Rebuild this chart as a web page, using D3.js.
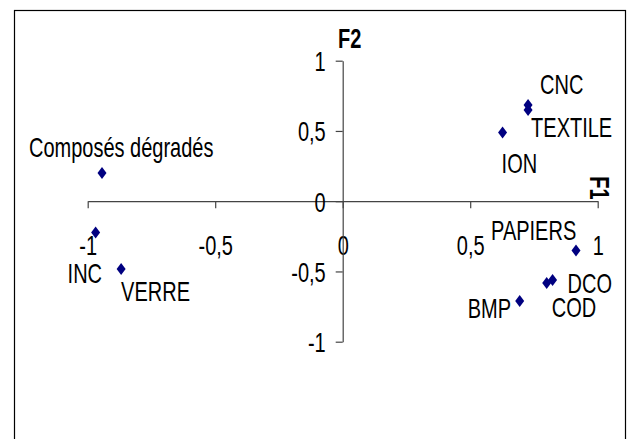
<!DOCTYPE html>
<html>
<head>
<meta charset="utf-8">
<script src="https://cdn.jsdelivr.net/npm/d3@7"></script>
<style>
  html, body { margin: 0; padding: 0; background: #fff; }
  svg { display: block; }
  text { font-family: "Liberation Sans", Arial, sans-serif; fill: #000; }
</style>
</head>
<body>
<div id="chart"></div>
<script>
// variables (PCA correlation circle, F1 x F2)
const names = ["Composés dégradés", "INC", "VERRE", "CNC", "TEXTILE", "ION", "PAPIERS", "DCO", "COD", "BMP"];
const f1 = [-0.944, -0.969, -0.869, 0.727, 0.727, 0.627, 0.915, 0.823, 0.80, 0.694];
const f2 = [0.20, -0.223, -0.483, 0.685, 0.649, 0.489, -0.351, -0.561, -0.582, -0.71];
const tickValues = [-1, -0.5, 0, 0.5, 1];

// label offsets from each point, in px (left edge, baseline)
const labelOffsets = {
    "Composés dégradés": [-73, -16],
    "INC": [-28, 50],
    "VERRE": [0, 32],
    "CNC": [12, -11],
    "TEXTILE": [3, 27],
    "ION": [-1, 41],
    "PAPIERS": [-85, -11],
    "DCO": [15, 13],
    "COD": [5, 34],
    "BMP": [-52, 17]
};

const width = 627, height = 439;
const fontSize = 25;
const stretch = "scale(0.8,1.13)";
const axisColor = "#444";

const svg = d3.select("#chart")
    .append("svg")
    .attr("width", width)
    .attr("height", height);

// chart frame, bottom edge runs off the picture
svg.append("rect")
    .attr("x", 14.5)
    .attr("y", 10.5)
    .attr("width", 611)
    .attr("height", 450)
    .attr("fill", "none")
    .attr("stroke", "#000")
    .attr("stroke-width", 1.2);

const x = d3.scaleLinear().domain([-1, 1]).range([87.7, 597.7]);
const y = d3.scaleLinear().domain([-1, 1]).range([341.7, 60.7]);

const fmt = d => String(d).replace(".", ",");

// horizontal axis through y = 0
const xAxis = svg.append("g")
    .attr("transform", `translate(0,${y(0)})`)
    .call(d3.axisBottom(x).tickValues(tickValues).tickFormat(fmt)
        .tickSize(7).tickSizeOuter(0));

xAxis.selectAll("text")
    .attr("y", 0).attr("dy", null)
    .attr("transform", `translate(0,53.5) ${stretch}`)
    .style("font-size", fontSize + "px");

// vertical axis through x = 0
const yAxis = svg.append("g")
    .attr("transform", `translate(${x(0)},0)`)
    .call(d3.axisLeft(y).tickValues(tickValues).tickFormat(fmt)
        .tickSize(7).tickSizeOuter(0));

yAxis.selectAll("text")
    .attr("x", 0).attr("dy", null)
    .attr("dominant-baseline", "central")
    .attr("transform", `translate(-17,0) ${stretch}`)
    .style("font-size", fontSize + "px");

svg.selectAll(".domain, .tick line")
    .attr("stroke", axisColor)
    .attr("stroke-width", 1.2);
svg.selectAll(".tick text").attr("fill", "#000").style("font-family", null);

// axis titles
svg.append("text")
    .attr("transform", `translate(338,48) ${stretch}`)
    .style("font-size", fontSize + "px")
    .style("font-weight", "bold")
    .text("F2");

svg.append("text")
    .attr("transform", `translate(590,188) rotate(90) ${stretch}`)
    .attr("text-anchor", "middle")
    .style("font-size", fontSize + "px")
    .style("font-weight", "bold")
    .text("F1");

const points = names.map((n, i) => ({ name: n, f1: f1[i], f2: f2[i] }));

svg.selectAll(".pt")
    .data(points)
    .enter()
    .append("path")
    .attr("class", "pt")
    .attr("d", "M0,-6L4.5,0L0,6L-4.5,0Z")
    .attr("fill", "#000080")
    .attr("transform", d => `translate(${x(d.f1)},${y(d.f2)})`);

svg.selectAll(".lbl")
    .data(points)
    .enter()
    .append("text")
    .attr("class", "lbl")
    .attr("transform", d => {
        const o = labelOffsets[d.name];
        return `translate(${x(d.f1) + o[0]},${y(d.f2) + o[1]}) ${stretch}`;
    })
    .style("font-size", fontSize + "px")
    .text(d => d.name);
</script>
</body>
</html>
